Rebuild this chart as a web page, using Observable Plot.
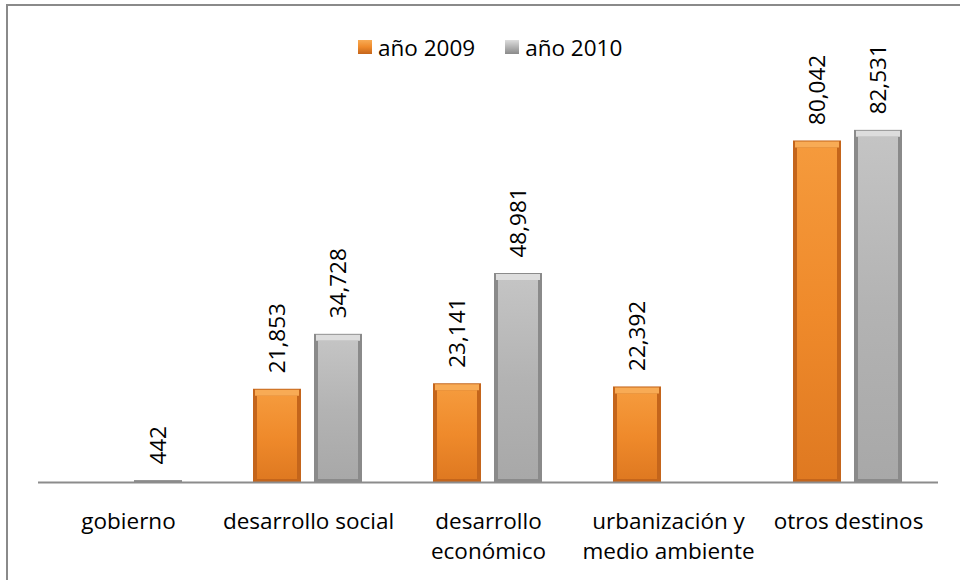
<!DOCTYPE html>
<html>
<head>
<meta charset="utf-8">
<script src="https://cdn.jsdelivr.net/npm/d3@7"></script>
<script src="https://cdn.jsdelivr.net/npm/@observablehq/plot@0.6"></script>
<style>
  html, body { margin: 0; padding: 0; background: #fff; width: 960px; height: 580px; overflow: hidden; }
  body { position: relative; font-family: "Open Sans", sans-serif; }
  #frame { position: absolute; left: 6px; top: 4px; width: 1000px; height: 1000px;
           border-top: 2px solid #8a8a8a; border-left: 2px solid #8a8a8a; pointer-events: none; }
  #legend { position: absolute; top: 32px; left: 358px; height: 30px; display: flex; align-items: center;
            font-size: 22.5px; color: #000; white-space: nowrap; }
  .item { display: flex; align-items: center; }
  .sw { width: 14px; height: 14px; margin-right: 6px; box-sizing: border-box; }
  #chart { position: absolute; left: 0; top: 62px; }
</style>
</head>
<body>
<svg width="0" height="0" style="position:absolute">
  <defs>
    <linearGradient id="bodyO" x1="0" y1="0" x2="0" y2="1">
      <stop offset="0" stop-color="#f59a3c"/>
      <stop offset="0.5" stop-color="#ef8a2b"/>
      <stop offset="1" stop-color="#df7921"/>
    </linearGradient>
    <linearGradient id="bodyG" x1="0" y1="0" x2="0" y2="1">
      <stop offset="0" stop-color="#c4c4c4"/>
      <stop offset="0.5" stop-color="#b3b3b3"/>
      <stop offset="1" stop-color="#a8a8a8"/>
    </linearGradient>
  </defs>
</svg>
<div id="frame"></div>
<div id="legend"></div>
<div id="chart"></div>
<script>
const categories = ["gobierno", "desarrollo social", "desarrollo económico", "urbanización y medio ambiente", "otros destinos"];
const categoryLabels = ["gobierno", "desarrollo social", "desarrollo\neconómico", "urbanización y\nmedio ambiente", "otros destinos"];
const years = ["año 2009", "año 2010"];
const values2009 = [null, 21853, 23141, 22392, 80042];
const values2010 = [442, 34728, 48981, null, 82531];

const edgeColors = {"año 2009": "#c4651b", "año 2010": "#8a8a8a"};
const bodyFills = {"año 2009": "url(#bodyO)", "año 2010": "url(#bodyG)"};
const topColors = {"año 2009": "#f8ab55", "año 2010": "#dddddd"};

const rows = [];
categories.forEach((c, i) => {
  if (values2009[i] != null) rows.push({category: c, year: years[0], value: values2009[i]});
  if (values2010[i] != null) rows.push({category: c, year: years[1], value: values2010[i]});
});

const fmt = d3.format(",");
const labelOf = new Map(categories.map((c, i) => [c, categoryLabels[i]]));

const barMarks = years.flatMap(yr => {
  const d = rows.filter(r => r.year === yr);
  const big = d.filter(r => r.value > 3000);
  return [
    Plot.barY(d, {fx: "category", x: "year", y: "value", fill: edgeColors[yr]}),
    Plot.barY(big, {fx: "category", x: "year", y: "value", fill: bodyFills[yr],
      insetLeft: 4, insetRight: 4, insetTop: 7, insetBottom: 3}),
    Plot.tickY(big, {fx: "category", x: "year", y: "value", stroke: topColors[yr],
      strokeWidth: 6, dy: 3.5, insetLeft: 2, insetRight: 2})
  ];
});

const chart = Plot.plot({
  width: 960,
  height: 518,
  marginLeft: 37,
  marginRight: 22,
  marginTop: 36,
  marginBottom: 98,
  style: {fontFamily: "'Open Sans', sans-serif", overflow: "visible", background: "transparent"},
  fx: {domain: categories, padding: 0, axis: null},
  x: {domain: years, paddingInner: 0.21, paddingOuter: 0.557, axis: null},
  y: {domain: [0, 90000], axis: null},
  marks: [
    ...barMarks,
    Plot.ruleY([0], {stroke: "#8c8c8c", strokeWidth: 2}),
    Plot.text(rows, {fx: "category", x: "year", y: "value", text: d => fmt(d.value),
      rotate: -90, textAnchor: "start", lineAnchor: "middle", dy: -16, fontSize: 22.5, fill: "#000"}),
    Plot.text(categories, {fx: d => d, text: d => labelOf.get(d), frameAnchor: "bottom",
      lineAnchor: "top", dy: 26, fontSize: 22.5, lineHeight: 1.3, fill: "#000"})
  ]
});
document.getElementById("chart").appendChild(chart);

const legend = document.getElementById("legend");
const swatchBg = {
  "año 2009": "linear-gradient(#f8ab55, #ef8a2b 50%, #c4651b)",
  "año 2010": "linear-gradient(#dddddd, #b3b3b3 50%, #8a8a8a)"
};
years.forEach((yr, i) => {
  const item = document.createElement("div");
  item.className = "item";
  if (i > 0) item.style.marginLeft = "30px";
  const sw = document.createElement("div");
  sw.className = "sw";
  sw.style.background = swatchBg[yr];
  const t = document.createElement("span");
  t.textContent = yr;
  item.appendChild(sw);
  item.appendChild(t);
  legend.appendChild(item);
});
</script>
</body>
</html>
